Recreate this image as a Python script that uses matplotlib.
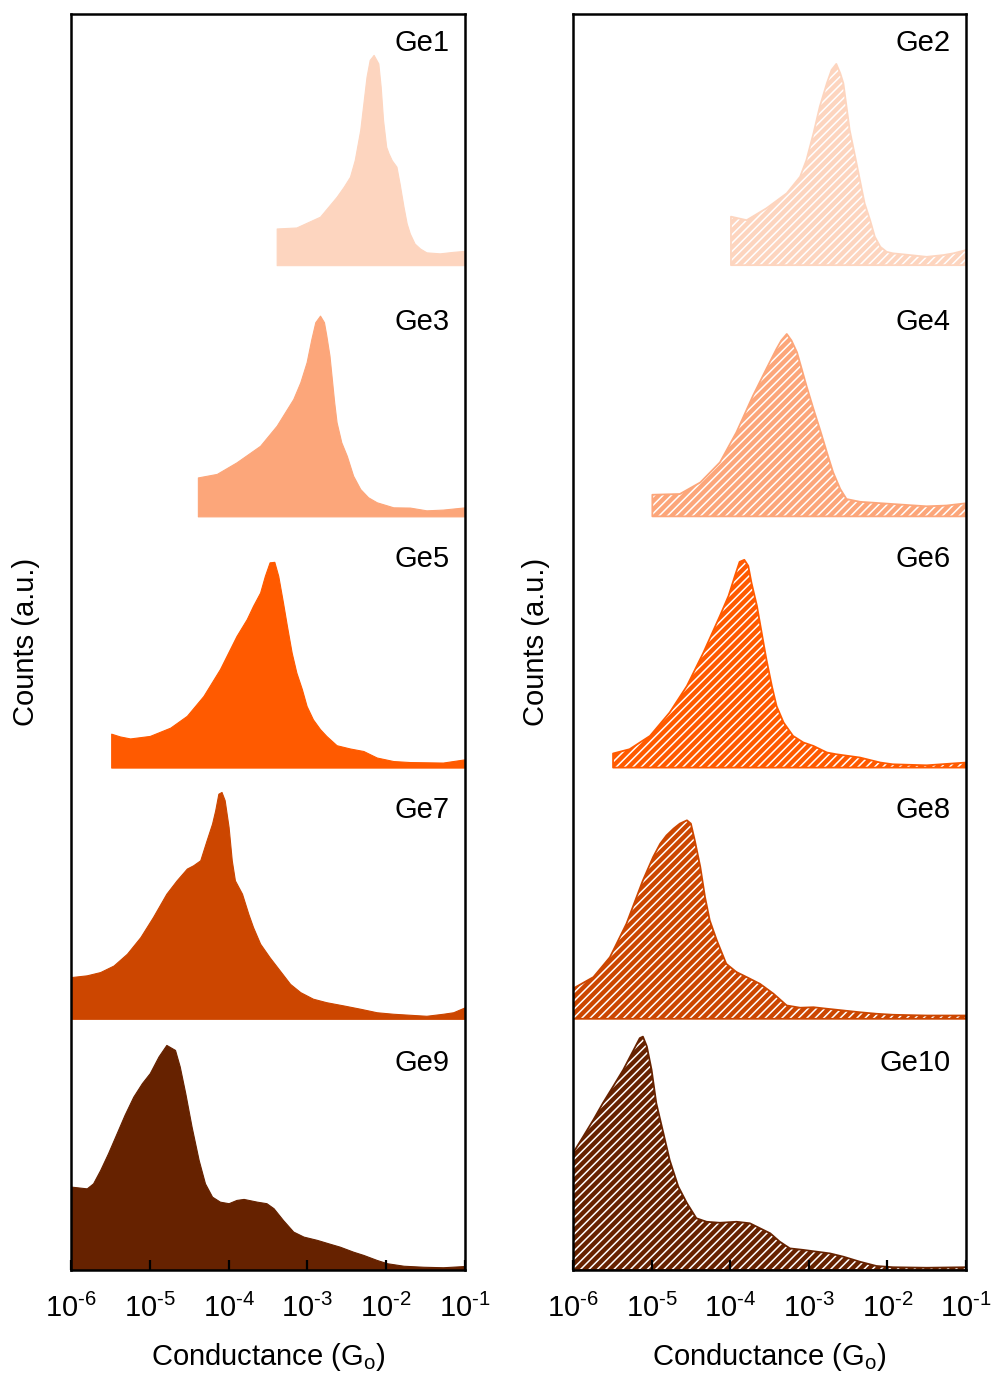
import numpy as np
import matplotlib
matplotlib.use("Agg")
import matplotlib.pyplot as plt
import matplotlib.transforms as mtransforms
from matplotlib.ticker import NullLocator

plt.rcParams['font.family'] = ['Liberation Sans', 'DejaVu Sans']
plt.rcParams['mathtext.fontset'] = 'custom'
plt.rcParams['mathtext.rm'] = 'Liberation Sans'
plt.rcParams['mathtext.it'] = 'Liberation Sans:italic'
plt.rcParams['mathtext.default'] = 'regular'
plt.rcParams['hatch.linewidth'] = 1.1

# conductance histograms: log10(G/G0) and normalised counts per sample
ge1_logg = [-3.39, -3.14, -2.84, -2.63, -2.54, -2.46, -2.40, -2.33, -2.29, -2.25, -2.21, -2.16,
            -2.10, -2.07, -2.04, -2.00, -1.97, -1.93, -1.87, -1.83, -1.78, -1.74, -1.70, -1.64,
            -1.57, -1.49, -1.32, -1.15, -1.00]
ge1_counts = [0.146, 0.150, 0.193, 0.272, 0.312, 0.352, 0.418, 0.538, 0.644, 0.750, 0.817, 0.837,
              0.803, 0.710, 0.578, 0.471, 0.445, 0.418, 0.392, 0.325, 0.232, 0.166, 0.126, 0.086,
              0.066, 0.051, 0.047, 0.053, 0.057]

ge2_logg = [-3.99, -3.79, -3.54, -3.28, -3.11, -3.03, -2.94, -2.86, -2.77, -2.71, -2.65, -2.60,
            -2.56, -2.52, -2.48, -2.41, -2.35, -2.29, -2.22, -2.16, -2.09, -2.01, -1.93, -1.71,
            -1.50, -1.29, -1.16, -1.00]
ge2_counts = [0.193, 0.179, 0.226, 0.286, 0.352, 0.418, 0.525, 0.631, 0.724, 0.777, 0.801, 0.764,
              0.724, 0.631, 0.538, 0.432, 0.339, 0.246, 0.179, 0.113, 0.073, 0.053, 0.047, 0.040,
              0.033, 0.040, 0.047, 0.060]

ge3_logg = [-4.39, -4.15, -3.90, -3.60, -3.39, -3.18, -3.09, -3.01, -2.95, -2.90, -2.84, -2.79,
            -2.76, -2.72, -2.69, -2.66, -2.63, -2.57, -2.50, -2.42, -2.33, -2.23, -2.12, -1.91,
            -1.70, -1.49, -1.28, -1.00]
ge3_counts = [0.155, 0.169, 0.215, 0.281, 0.361, 0.467, 0.534, 0.614, 0.706, 0.773, 0.799, 0.773,
              0.720, 0.640, 0.547, 0.454, 0.375, 0.295, 0.241, 0.162, 0.109, 0.076, 0.056, 0.036,
              0.035, 0.024, 0.027, 0.036]

ge4_logg = [-4.99, -4.64, -4.38, -4.13, -3.92, -3.71, -3.54, -3.41, -3.35, -3.28, -3.22, -3.15,
            -3.09, -3.03, -2.94, -2.86, -2.77, -2.69, -2.60, -2.52, -2.35, -1.93, -1.50, -1.25,
            -1.00]
ge4_counts = [0.086, 0.089, 0.135, 0.215, 0.335, 0.480, 0.587, 0.667, 0.700, 0.726, 0.700, 0.653,
              0.587, 0.520, 0.427, 0.348, 0.255, 0.175, 0.109, 0.069, 0.058, 0.049, 0.040, 0.043,
              0.052]

ge5_logg = [-5.49, -5.38, -5.25, -5.00, -4.74, -4.53, -4.32, -4.11, -3.90, -3.77, -3.69, -3.60,
            -3.54, -3.48, -3.42, -3.37, -3.31, -3.26, -3.20, -3.14, -3.07, -3.01, -2.93, -2.84,
            -2.76, -2.63, -2.46, -2.29, -2.12, -1.91, -1.70, -1.28, -1.00]
ge5_counts = [0.135, 0.124, 0.116, 0.126, 0.159, 0.206, 0.285, 0.392, 0.524, 0.591, 0.644, 0.697,
              0.763, 0.817, 0.819, 0.763, 0.657, 0.564, 0.458, 0.378, 0.312, 0.245, 0.192, 0.153,
              0.126, 0.089, 0.076, 0.066, 0.040, 0.026, 0.022, 0.020, 0.033]

ge6_logg = [-5.49, -5.28, -5.02, -4.77, -4.55, -4.34, -4.13, -4.02, -3.94, -3.88, -3.82, -3.77,
            -3.73, -3.66, -3.60, -3.54, -3.47, -3.41, -3.32, -3.20, -3.07, -2.94, -2.77, -2.65,
            -2.35, -2.09, -1.93, -1.50, -1.00]
ge6_counts = [0.056, 0.073, 0.126, 0.219, 0.325, 0.458, 0.604, 0.684, 0.763, 0.819, 0.827, 0.803,
              0.737, 0.644, 0.538, 0.432, 0.325, 0.245, 0.179, 0.126, 0.100, 0.086, 0.060, 0.053,
              0.040, 0.020, 0.013, 0.009, 0.020]

ge7_logg = [-6.00, -5.80, -5.63, -5.46, -5.29, -5.12, -4.96, -4.79, -4.66, -4.53, -4.45, -4.36,
            -4.28, -4.21, -4.17, -4.13, -4.09, -4.05, -4.00, -3.96, -3.92, -3.83, -3.75, -3.69,
            -3.60, -3.48, -3.35, -3.22, -3.09, -2.93, -2.76, -2.54, -2.33, -2.12, -1.91, -1.70,
            -1.49, -1.28, -1.15, -1.00]
ge7_counts = [0.166, 0.173, 0.186, 0.212, 0.259, 0.325, 0.405, 0.498, 0.551, 0.598, 0.611, 0.631,
              0.710, 0.777, 0.830, 0.896, 0.903, 0.870, 0.763, 0.631, 0.551, 0.498, 0.418, 0.365,
              0.299, 0.245, 0.192, 0.139, 0.106, 0.080, 0.066, 0.053, 0.040, 0.026, 0.020, 0.016,
              0.012, 0.020, 0.026, 0.046]

ge8_logg = [-6.00, -5.74, -5.53, -5.32, -5.11, -4.98, -4.89, -4.81, -4.72, -4.64, -4.55, -4.50,
            -4.45, -4.38, -4.32, -4.26, -4.17, -4.05, -3.92, -3.79, -3.62, -3.45, -3.28, -3.11,
            -2.94, -2.77, -2.56, -2.35, -2.14, -1.93, -1.50, -1.00]
ge8_counts = [0.120, 0.166, 0.245, 0.378, 0.551, 0.644, 0.697, 0.730, 0.757, 0.777, 0.790, 0.777,
              0.710, 0.604, 0.484, 0.392, 0.312, 0.219, 0.186, 0.166, 0.139, 0.100, 0.053, 0.044,
              0.046, 0.040, 0.033, 0.026, 0.020, 0.016, 0.013, 0.013]

ge9_logg = [-6.00, -5.80, -5.72, -5.63, -5.53, -5.42, -5.32, -5.21, -5.10, -5.00, -4.89, -4.79,
            -4.68, -4.62, -4.55, -4.47, -4.38, -4.30, -4.21, -4.11, -4.00, -3.90, -3.81, -3.64,
            -3.52, -3.43, -3.31, -3.18, -3.05, -2.88, -2.71, -2.59, -2.42, -2.29, -2.12, -1.99,
            -1.78, -1.53, -1.28, -1.00]
ge9_counts = [0.332, 0.325, 0.345, 0.398, 0.465, 0.545, 0.618, 0.690, 0.744, 0.784, 0.850, 0.896,
              0.876, 0.810, 0.704, 0.571, 0.438, 0.345, 0.292, 0.272, 0.266, 0.279, 0.283, 0.272,
              0.266, 0.246, 0.199, 0.153, 0.133, 0.120, 0.104, 0.093, 0.073, 0.060, 0.040, 0.027,
              0.017, 0.013, 0.011, 0.016]

ge10_logg = [-6.00, -5.87, -5.74, -5.62, -5.49, -5.36, -5.25, -5.15, -5.11, -5.06, -5.00, -4.94,
             -4.85, -4.77, -4.66, -4.55, -4.43, -4.30, -4.13, -3.92, -3.75, -3.62, -3.49, -3.37,
             -3.24, -3.07, -2.90, -2.73, -2.56, -2.35, -2.14, -1.93, -1.50, -1.00]
ge10_counts = [0.465, 0.531, 0.598, 0.664, 0.730, 0.797, 0.863, 0.923, 0.929, 0.890, 0.797, 0.664,
               0.545, 0.438, 0.332, 0.266, 0.206, 0.192, 0.188, 0.192, 0.186, 0.166, 0.146, 0.113,
               0.086, 0.080, 0.073, 0.066, 0.053, 0.033, 0.016, 0.011, 0.009, 0.011]

left_names = ['Ge1', 'Ge3', 'Ge5', 'Ge7', 'Ge9']
right_names = ['Ge2', 'Ge4', 'Ge6', 'Ge8', 'Ge10']
left_data = [(ge1_logg, ge1_counts), (ge3_logg, ge3_counts), (ge5_logg, ge5_counts),
             (ge7_logg, ge7_counts), (ge9_logg, ge9_counts)]
right_data = [(ge2_logg, ge2_counts), (ge4_logg, ge4_counts), (ge6_logg, ge6_counts),
              (ge8_logg, ge8_counts), (ge10_logg, ge10_counts)]

# one colour per row, light (top) to dark (bottom)
row_colors = ['#FDD5BF', '#FCA67A', '#FF5A00', '#CC4600', '#662200']
offsets = [4, 3, 2, 1, 0]
label_y = [0.885, 0.775, 0.83, 0.83, 0.825]

decades = [1e-6, 1e-5, 1e-4, 1e-3, 1e-2, 1e-1]
decade_labels = ['10$^{\\text{-%d}}$' % k for k in (6, 5, 4, 3, 2, 1)]

fig = plt.figure(figsize=(9.93, 13.8), dpi=100)
ax_l = fig.add_axes([0.0715, 0.0797, 0.3968, 0.9102])
ax_r = fig.add_axes([0.5770, 0.0797, 0.3958, 0.9102])


def draw_stack(ax, names, data, hatched):
    for name, (logg, counts), color, off, ly in zip(names, data, row_colors, offsets, label_y):
        g = 10.0 ** np.asarray(logg)
        top = off + np.asarray(counts)
        if hatched:
            ax.fill_between(g, off, top, facecolor=color, edgecolor='none', linewidth=0, zorder=1)
            ax.fill_between(g, off, top, facecolor='none', edgecolor='white', linewidth=0,
                            hatch='////', zorder=1.1)
            ax.fill_between(g, off, top, facecolor='none', edgecolor=color, linewidth=1.3, zorder=1.2)
        else:
            ax.fill_between(g, off, top, facecolor=color, edgecolor=color, linewidth=0.8, zorder=1)
        trans = mtransforms.blended_transform_factory(ax.transAxes, ax.transData)
        ax.text(0.96, off + ly, name, transform=trans, ha='right', va='center', fontsize=21)

    ax.set_xscale('log')
    ax.set_xlim(1e-6, 1e-1)
    ax.set_ylim(0, 5)
    ax.set_xticks(decades)
    ax.set_xticklabels(decade_labels)
    ax.xaxis.set_minor_locator(NullLocator())
    ax.set_yticks([])
    ax.tick_params(axis='x', direction='in', length=7, width=1.6, labelsize=21, pad=17)
    for sp in ax.spines.values():
        sp.set_linewidth(1.8)
        sp.set_zorder(5)
    ax.set_xlabel('Conductance (G$_o$)', fontsize=21, labelpad=13)
    ax.set_ylabel('Counts (a.u.)', fontsize=21)


draw_stack(ax_l, left_names, left_data, hatched=False)
draw_stack(ax_r, right_names, right_data, hatched=True)
ax_l.yaxis.set_label_coords(-0.079, 0.5)
ax_r.yaxis.set_label_coords(-0.059, 0.5)

fig.savefig('out.png', dpi=100)
